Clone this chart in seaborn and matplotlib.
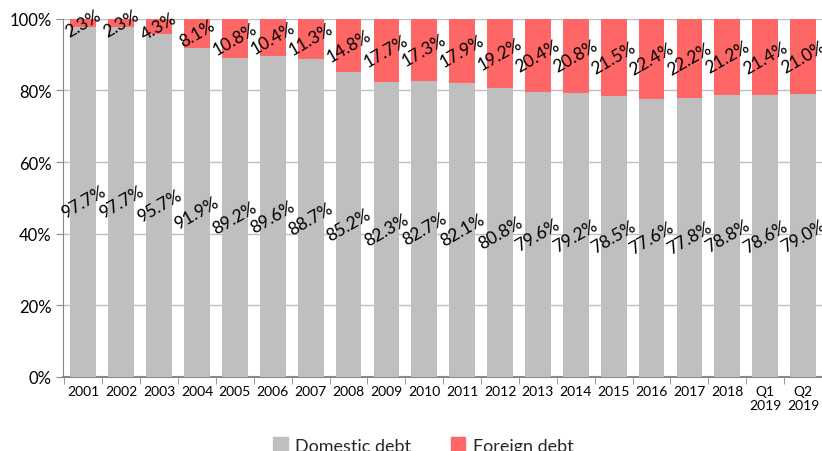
import matplotlib
matplotlib.use("Agg")
import matplotlib.pyplot as plt
import seaborn as sns
import pandas as pd
from matplotlib.patches import Patch

# Daten
periods = ["2001", "2002", "2003", "2004", "2005", "2006", "2007", "2008", "2009", "2010",
           "2011", "2012", "2013", "2014", "2015", "2016", "2017", "2018", "Q1\n2019", "Q2\n2019"]
domestic = [97.7, 97.7, 95.7, 91.9, 89.2, 89.6, 88.7, 85.2, 82.3, 82.7,
            82.1, 80.8, 79.6, 79.2, 78.5, 77.6, 77.8, 78.8, 78.6, 79.0]
foreign = [2.3, 2.3, 4.3, 8.1, 10.8, 10.4, 11.3, 14.8, 17.7, 17.3,
           17.9, 19.2, 20.4, 20.8, 21.5, 22.4, 22.2, 21.2, 21.4, 21.0]

df = pd.DataFrame({"period": periods, "domestic": domestic, "foreign": foreign})
df["total"] = df["domestic"] + df["foreign"]

sns.set_style("white")
plt.rcParams["font.family"] = ["Lato", "DejaVu Sans"]

grey = "#BFBFBF"
red = "#FF6666"

fig = plt.figure(figsize=(8.22, 4.52), dpi=100)
ax = fig.add_axes([0.077, 0.164, 0.923, 0.792])

sns.barplot(data=df, x="period", y="total", color=red, width=0.68, ax=ax,
            saturation=1, linewidth=0, zorder=2)
sns.barplot(data=df, x="period", y="domestic", color=grey, width=0.68, ax=ax,
            saturation=1, linewidth=0, zorder=3)

# Beschriftungen (gedreht)
for i, (d, f) in enumerate(zip(domestic, foreign)):
    ax.text(i, d / 2, f"{d:.1f}%", rotation=30, ha="center", va="center",
            fontsize=12.5, color="black", zorder=5)
    ax.text(i, d + f / 2, f"{f:.1f}%", rotation=30, ha="center", va="center",
            fontsize=12.5, color="black", zorder=5)

ax.set_ylim(0, 100)
ax.set_xlim(-0.53, 19.45)
ax.set_yticks(range(0, 101, 20))
ax.set_yticklabels([f"{v}%" for v in range(0, 101, 20)], fontsize=12, color="black")
ax.set_xticks(range(len(periods)))
ax.set_xticklabels(periods, fontsize=10, color="black")
ax.tick_params(axis="x", length=0, pad=6)
ax.tick_params(axis="y", length=5, color="#888888", left=True)
ax.set_xticks([i - 0.5 for i in range(len(periods) + 1)], minor=True)
ax.tick_params(axis="x", which="minor", length=5, color="#888888", bottom=True)
ax.yaxis.grid(True, color="#BFBFBF", linewidth=1, zorder=0)
ax.set_axisbelow(True)
ax.set_xlabel("")
ax.set_ylabel("")
for s in ["top", "right"]:
    ax.spines[s].set_visible(False)
ax.spines["left"].set_color("#888888")
ax.spines["bottom"].set_color("#888888")
ax.spines["bottom"].set_linewidth(1.5)

handles = [Patch(color=grey, label="Domestic debt"), Patch(color=red, label="Foreign debt")]
fig.legend(handles=handles, loc="center", bbox_to_anchor=(0.515, 0.012), ncol=2, frameon=False,
           fontsize=13, handlelength=0.8, handleheight=0.8, columnspacing=2.2, handletextpad=0.4)

fig.savefig("out.png", dpi=100)
